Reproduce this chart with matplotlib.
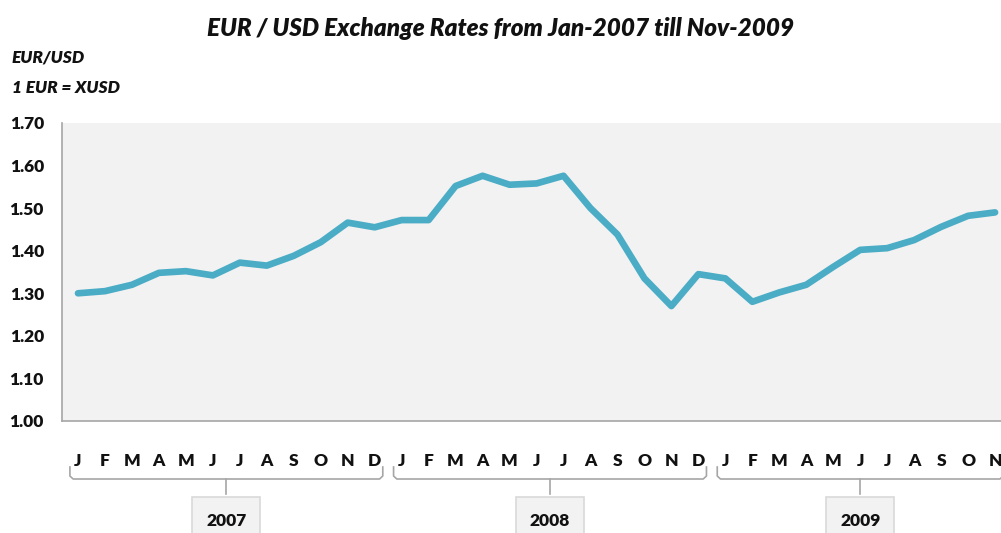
import matplotlib
matplotlib.use('Agg')
import matplotlib.pyplot as plt
from matplotlib.transforms import blended_transform_factory
from matplotlib.patches import Rectangle

plt.rcParams['font.family'] = ['Lato', 'DejaVu Sans']

# monthly EUR/USD, Jan-2007 .. Nov-2009
months = list('JFMAMJJASOND') * 2 + list('JFMAMJJASON')
rates = [1.300, 1.305, 1.320, 1.348, 1.352, 1.342, 1.372, 1.365, 1.388, 1.420, 1.466, 1.455,
         1.472, 1.472, 1.552, 1.576, 1.555, 1.558, 1.576, 1.500, 1.438, 1.335, 1.270, 1.345,
         1.335, 1.280, 1.302, 1.320, 1.362, 1.402, 1.406, 1.425, 1.456, 1.482, 1.490]
years = ['2007', '2008', '2009']
months_per_year = [12, 12, 11]

W, H = 1001, 533
fig = plt.figure(figsize=(W / 100, H / 100), dpi=100)
fig.patch.set_facecolor('white')
ax = fig.add_axes([62 / W, 1 - 421 / H, 939 / W, 298 / H])
ax.set_facecolor('#f2f2f2')

x = list(range(len(rates)))
ax.plot(x, rates, color='#4bacc6', linewidth=4.8, solid_joinstyle='round',
        solid_capstyle='round', clip_on=False)

ax.set_xlim(-0.593, 34.22)
ax.set_ylim(1.0, 1.7)
ax.set_yticks([1.0 + 0.1 * i for i in range(8)])
ax.set_yticklabels([f'{1.0 + 0.1 * i:.2f}' for i in range(8)], fontsize=12.5, fontweight='heavy')
ax.set_xticks(x)
ax.set_xticklabels(months, fontsize=12.5, fontweight='heavy')
ax.tick_params(axis='both', length=0, colors='#111111')
ax.tick_params(axis='y', pad=13)
ax.tick_params(axis='x', pad=23)
for s in ['top', 'right']:
    ax.spines[s].set_visible(False)
for s in ['left', 'bottom']:
    ax.spines[s].set_color('#a6a6a6')
    ax.spines[s].set_linewidth(1.2)

# year braces + boxes below the month labels (y in figure pixels)
tr = blended_transform_factory(ax.transData, fig.transFigure)
def fy(py):
    return 1 - py / H

start = 0
for yr, n in zip(years, months_per_year):
    x0 = start - 0.3
    x1 = start + n - 1 + 0.3
    xm = (x0 + x1) / 2
    ax.plot([x0, x0, x0 + 0.12, x1 - 0.12, x1, x1],
            [fy(467), fy(476), fy(479), fy(479), fy(476), fy(467)],
            color='#a6a6a6', lw=1.2, transform=tr, clip_on=False)
    ax.plot([xm, xm], [fy(479), fy(494)], color='#a6a6a6', lw=1.2,
            transform=tr, clip_on=False)
    bw = 68 / 26.96
    ax.add_patch(Rectangle((xm - bw / 2, fy(545)), bw, fy(497) - fy(545),
                           facecolor='#f2f2f2', edgecolor='#d9d9d9', lw=1.2,
                           transform=tr, clip_on=False))
    ax.text(xm, fy(521), yr, transform=tr, ha='center', va='center',
            fontsize=12.5, fontweight='heavy', color='#111111')
    start += n

fig.text(0.5, fy(29), 'EUR / USD Exchange Rates from Jan-2007 till Nov-2009',
         ha='center', va='center', fontsize=17.5, fontweight='heavy', style='italic',
         color='#111111')
fig.text(12 / W, fy(58), 'EUR/USD', ha='left', va='center', fontsize=12.5,
         fontweight='heavy', style='italic', color='#111111')
fig.text(12 / W, fy(88), '1 EUR = XUSD', ha='left', va='center', fontsize=12.5,
         fontweight='heavy', style='italic', color='#111111')

fig.savefig('out.png', dpi=100)
